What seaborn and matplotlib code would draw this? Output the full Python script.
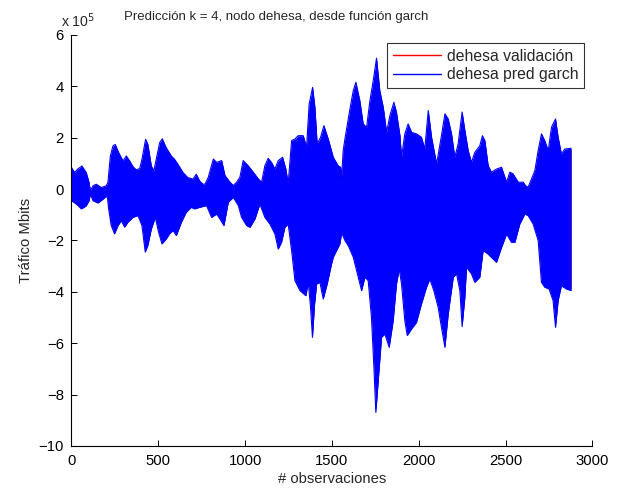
import numpy as np
import pandas as pd
import matplotlib
matplotlib.use("Agg")
import matplotlib.pyplot as plt
import seaborn as sns
from matplotlib.lines import Line2D

# Envelope of the dense oscillating prediction signal (values in units of 1e5 Mbits)
upper_obs = [0, 18, 34, 60, 85, 101, 109, 124, 143, 172, 200, 210, 224, 239, 252, 272, 297, 316,
             335, 354, 373, 393, 406, 427, 440, 460, 475, 488, 508, 523, 546, 575, 594, 613, 642,
             670, 700, 719, 738, 757, 769, 788, 817, 836, 865, 884, 913, 932, 951, 970, 989,
             1018, 1047, 1076, 1095, 1114, 1133, 1152, 1172, 1191, 1216, 1235, 1248, 1268, 1287,
             1306, 1335, 1354, 1369, 1389, 1402, 1415, 1435, 1454, 1479, 1508, 1536, 1550, 1556,
             1565, 1575, 1604, 1623, 1638, 1661, 1680, 1700, 1719, 1738, 1757, 1776, 1796, 1815,
             1834, 1857, 1872, 1892, 1901, 1920, 1939, 1959, 1987, 2016, 2035, 2055, 2074, 2103,
             2131, 2151, 2170, 2189, 2208, 2227, 2250, 2266, 2285, 2304, 2323, 2352, 2367, 2381,
             2400, 2419, 2448, 2477, 2506, 2525, 2544, 2573, 2602, 2615, 2630, 2650, 2669, 2688,
             2707, 2726, 2746, 2765, 2788, 2803, 2822, 2841, 2878]
upper_val = [0.84, 0.65, 0.77, 0.9, 0.65, 0.26, -0.06, 0.13, 0.19, 0.06, 0.13, 0.26, 1.29, 1.68,
             1.74, 1.42, 1.1, 1.29, 1.1, 0.88, 0.75, 0.8, 1.16, 1.94, 1.74, 0.9, 0.71, 1.16, 1.81,
             1.96, 1.61, 1.29, 1.16, 0.97, 0.65, 0.45, 0.39, 0.58, 0.32, 0.19, 0.2, 0.46, 1.17,
             1.04, 1.11, 0.53, 0.27, 0.14, 0.27, 0.46, 1.11, 0.91, 0.66, 0.4, 0.27, 0.91, 1.2,
             1.04, 0.78, 1.11, 1.24, 0.78, 0.2, 1.89, 1.95, 2.08, 2.08, 1.63, 3.31, 3.96, 3.19,
             1.76, 2.02, 2.47, 1.95, 1.24, 0.91, 0.85, 0.46, 1.5, 1.95, 3.12, 3.83, 4.16, 3.44,
             2.54, 2.41, 3.44, 4.22, 5.1, 3.83, 3.18, 2.21, 2.86, 3.38, 2.99, 2.08, 1.24, 2.15,
             2.54, 2.21, 2.15, 2.02, 1.56, 3.06, 2.02, 0.98, 2.08, 2.93, 2.73, 2.15, 1.24, 1.76,
             3.0, 2.28, 1.5, 1.04, 1.43, 1.69, 2.08, 1.89, 0.91, 0.66, 0.78, 0.85, 0.27, 0.66,
             0.59, 0.27, 0.27, 0.14, 0.07, 0.4, 0.72, 1.5, 2.15, 1.89, 1.5, 2.41, 2.73, 2.02,
             1.37, 1.56, 1.59]

lower_obs = [0, 28, 57, 85, 101, 109, 124, 153, 181, 206, 214, 229, 248, 268, 287, 306, 325, 354,
             383, 406, 425, 440, 460, 483, 502, 521, 546, 565, 585, 604, 633, 661, 690, 709, 738,
             778, 807, 836, 855, 878, 903, 932, 961, 980, 1009, 1028, 1057, 1085, 1114, 1143,
             1172, 1191, 1210, 1229, 1248, 1268, 1287, 1316, 1350, 1364, 1377, 1388, 1400, 1412,
             1431, 1450, 1473, 1498, 1508, 1536, 1546, 1556, 1575, 1594, 1623, 1652, 1671, 1690,
             1709, 1728, 1742, 1753, 1767, 1786, 1805, 1830, 1853, 1872, 1888, 1901, 1920, 1934,
             1959, 1987, 2016, 2045, 2064, 2087, 2112, 2131, 2151, 2170, 2199, 2218, 2237, 2250,
             2266, 2275, 2304, 2323, 2352, 2371, 2400, 2419, 2448, 2477, 2506, 2534, 2554, 2582,
             2611, 2630, 2659, 2688, 2707, 2726, 2751, 2774, 2788, 2803, 2822, 2851, 2878]
lower_val = [-0.45, -0.58, -0.77, -0.65, -0.45, -0.19, -0.45, -0.54, -0.39, -0.26, -0.77, -1.42,
             -1.74, -1.42, -1.23, -1.48, -1.29, -1.1, -1.03, -1.42, -2.45, -2.19, -1.55, -1.1,
             -1.68, -2.13, -1.94, -1.74, -1.61, -1.81, -1.29, -0.9, -0.71, -0.77, -0.71, -0.64,
             -1.1, -0.97, -1.16, -1.42, -0.51, -0.32, -0.64, -1.1, -1.42, -1.49, -1.16, -0.58,
             -1.1, -1.36, -1.75, -2.33, -2.07, -1.49, -1.36, -2.39, -3.56, -3.95, -4.15, -3.63,
             -4.6, -5.77, -4.5, -3.69, -3.63, -4.28, -3.69, -2.91, -2.65, -2.27, -2.13, -1.7,
             -2.0, -2.2, -2.65, -3.43, -3.95, -3.43, -3.56, -4.99, -6.94, -8.69, -7.45, -5.77,
             -5.64, -6.16, -5.12, -3.69, -3.11, -3.69, -5.12, -5.7, -5.44, -5.19, -4.47, -3.82,
             -3.5, -3.95, -4.6, -5.38, -6.16, -4.86, -3.43, -3.3, -3.95, -5.35, -4.2, -3.04,
             -3.3, -3.63, -3.43, -2.39, -2.53, -2.66, -2.85, -2.27, -1.75, -2.07, -2.07, -1.36,
             -0.97, -1.03, -1.36, -2.0, -3.63, -3.82, -3.89, -4.34, -5.38, -4.34, -3.76, -3.89,
             -3.95]

series_labels = ["dehesa validación", "dehesa pred garch"]
title = "Predicción k = 4, nodo dehesa, desde función garch"
x_ticks = [0, 500, 1000, 1500, 2000, 2500, 3000]
y_ticks = [-10, -8, -6, -4, -2, 0, 2, 4, 6]

sns.set_style("white")
plt.rcParams['font.family'] = ['Liberation Sans', 'DejaVu Sans']

fig = plt.figure(figsize=(6.28, 4.90), dpi=100)
ax = fig.add_axes([0.1138, 0.0898, 0.8294, 0.8388])

up = pd.DataFrame({"obs": upper_obs, "val": upper_val})
lo = pd.DataFrame({"obs": lower_obs, "val": lower_val})
all_obs = np.union1d(upper_obs, lower_obs)
u_i = np.interp(all_obs, upper_obs, upper_val)
l_i = np.interp(all_obs, lower_obs, lower_val)

# validation series (mostly hidden underneath the prediction)
ax.fill_between(all_obs, l_i * 0.98, u_i * 0.98, color="red", linewidth=0)
# prediction series
ax.fill_between(all_obs, l_i, u_i, color="blue", linewidth=0)
sns.lineplot(data=up, x="obs", y="val", ax=ax, color="blue", linewidth=0.8)
sns.lineplot(data=lo, x="obs", y="val", ax=ax, color="blue", linewidth=0.8)

ax.set_xlim(0, 3000)
ax.set_ylim(-10, 6)
ax.set_xticks(x_ticks)
ax.set_yticks(y_ticks)
ax.set_yticklabels([f"{v}" if v >= 0 else f"\u2212{abs(v)}" for v in y_ticks])
ax.tick_params(direction="in", length=4, labelsize=10.7, colors="black",
               left=True, bottom=True, pad=5.5, width=0.7)
for s in ["top", "right"]:
    ax.spines[s].set_visible(False)
for s in ["left", "bottom"]:
    ax.spines[s].set_color("black")
    ax.spines[s].set_linewidth(0.8)

ax.set_xlabel("# observaciones", fontsize=10.7, labelpad=3)
ax.set_ylabel("Tráfico Mbits", fontsize=10.7, labelpad=4)
ax.set_title(title, fontsize=9.5, x=0.3925, y=1.0426, pad=0, va="center")
fig.text(61 / 628, 1 - 21 / 490, r"x 10$^{5}$", fontsize=10.2, ha="left", va="center")

handles = [Line2D([0], [0], color="red", lw=1), Line2D([0], [0], color="blue", lw=1)]
leg = ax.legend(handles, series_labels, loc="upper right", bbox_to_anchor=(0.984, 0.98),
                fontsize=11.3, frameon=True, fancybox=False, handlelength=3.1,
                borderpad=0.35, labelspacing=0.22, handletextpad=0.35, borderaxespad=0)
leg.get_frame().set_edgecolor("black")
leg.get_frame().set_linewidth(0.8)

fig.savefig("out.png", dpi=100)
